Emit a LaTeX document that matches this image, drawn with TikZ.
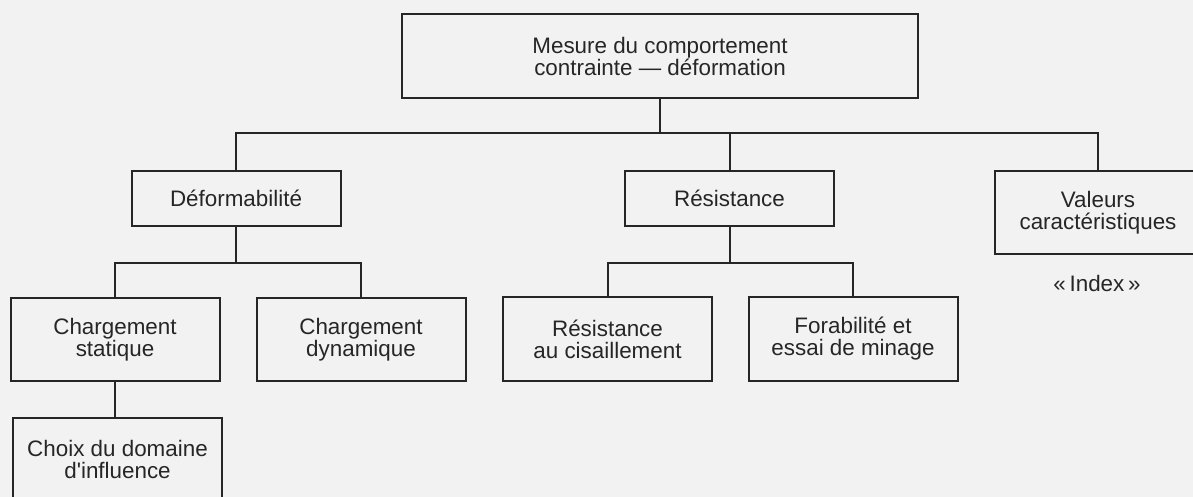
\documentclass[tikz,border=0pt]{standalone}
\usepackage{fontspec}
\setmainfont{Liberation Sans}

\tikzset{
  box/.style={draw=black!85, line width=1pt, align=center, inner sep=0pt, text=black!85,
    minimum width=104.5pt, minimum height=41.75pt, font=\fontsize{11.2}{11}\selectfont},
  flatbox/.style={box, minimum height=27.5pt},
  link/.style={draw=black!85, line width=1pt}
}

\begin{document}
\begin{tikzpicture}[x=0.5pt, y=-0.5pt]
\useasboundingbox[fill=black!5] (0,0) rectangle (1193,497);
\node[box, minimum width=258pt, minimum height=42pt] (mesure) at (660,56) {Mesure du comportement\\contrainte --- déformation}; % Mesure
\node[flatbox] (deform) at (236,198.5) {Déformabilité}; % Deform
\node[flatbox] (resist) at (729.5,198.5) {Résistance}; % Resist
\node[box, minimum width=103pt] (valeurs) at (1098,212.5) {Valeurs\\caractéristiques}; % Valeurs
\node[font=\fontsize{11.2}{11}\selectfont, text=black!85] (index) at (1097,283) {«\,Index\,»}; % Index
\node[box] (statique) at (115,339.5) {Chargement\\statique}; % Statique
\node[box] (dynamique) at (361,339.5) {Chargement\\dynamique}; % Dynamique
\node[box] (cisail) at (607.5,339) {Résistance\\au cisaillement}; % Cisail
\node[box] (minage) at (853,339) {Forabilité et\\essai de minage}; % Minage
\node[box] (choix) at (117.5,459.5) {Choix du domaine\\d\textquotesingle influence}; % Choix
\coordinate (bus) at (663,133);
\coordinate (dbus) at (236,263);
\coordinate (rbus) at (729.5,263);
\draw[link] (mesure.south) -- (mesure.south |- bus) ; % Mesure.bus
\draw[link] (deform.north) -- (deform.north |- bus) -- (valeurs.north |- bus) -- (valeurs.north) ; % bus
\draw[link] (resist.north) -- (resist.north |- bus) ; % Resist.bus
\draw[link] (deform.south) -- (dbus) ; % Deform.bus
\draw[link] (statique.north) -- (statique.north |- dbus) -- (dynamique.north |- dbus) -- (dynamique.north) ; % dbus
\draw[link] (resist.south) -- (rbus) ; % Resist.bus
\draw[link] (cisail.north) -- (cisail.north |- rbus) -- (minage.north |- rbus) -- (minage.north) ; % rbus
\draw[link] (statique.south) -- (statique.south |- choix.north) ; % Statique.Choix
\end{tikzpicture}
\end{document}
